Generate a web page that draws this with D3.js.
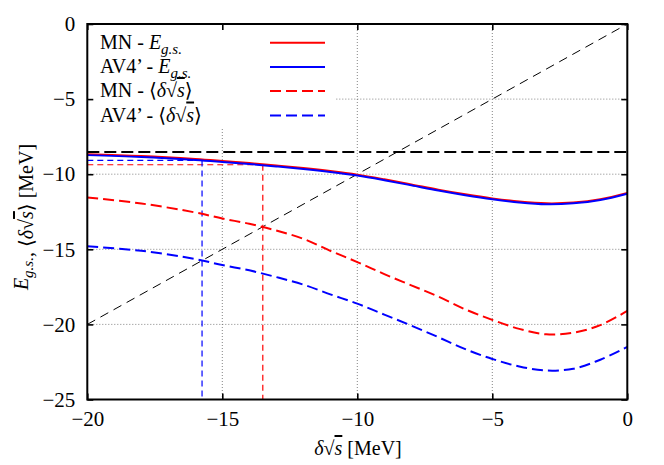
<!DOCTYPE html>
<html>
<head>
<meta charset="utf-8">
<script src="https://cdn.jsdelivr.net/npm/d3@7"></script>
<style>
  body { margin: 0; background: #fff; }
  text { font-family: "Liberation Serif", "DejaVu Serif", serif; fill: #000; }
  .grid line { stroke: #666; stroke-width: 0.8; stroke-dasharray: 1,2; }
</style>
</head>
<body>
<div id="chart"></div>
<script>
// DATA
// delta sqrt(s) grid [MeV]
var xs = [-20, -18, -16, -15, -14, -13, -12, -11, -10, -9, -8, -7, -6, -5, -4, -3, -2, -1, 0];
// ground state energy, MN and AV4'
var egsMN  = [-8.67, -8.79, -8.99, -9.12, -9.26, -9.42, -9.59, -9.79, -10.03, -10.34, -10.68, -11.03, -11.34, -11.61, -11.82, -11.94, -11.89, -11.67, -11.25];
var egsAV4 = [-8.73, -8.85, -9.05, -9.18, -9.32, -9.48, -9.65, -9.85, -10.09, -10.4, -10.74, -11.09, -11.4, -11.67, -11.88, -12.0, -11.94, -11.72, -11.3];
// <delta sqrt(s)>, MN and AV4'
var dsMN  = [-11.55, -11.95, -12.55, -12.95, -13.3, -13.75, -14.3, -15.1, -15.85, -16.65, -17.4, -18.15, -19.0, -19.7, -20.3, -20.66, -20.55, -20.05, -19.1];
var dsAV4 = [-14.8, -15.1, -15.65, -16.05, -16.4, -16.85, -17.35, -18.0, -18.62, -19.35, -20.08, -20.85, -21.65, -22.3, -22.8, -23.07, -22.95, -22.35, -21.5];
// self consistent points (delta sqrt(s) = <delta sqrt(s)>)
var scX = [-13.5, -15.75];
var scE = [-9.37, -9.08];
var scColor = ["#ff0000", "#0000ff"];
// threshold level
var threshold = -8.53;

var xTicks = [-20, -15, -10, -5, 0];
var yTicks = [0, -5, -10, -15, -20, -25];

// SIZES
var W = 664, H = 465;
var pL = 87.3, pR = 627.3, pT = 24, pB = 399.5;

var x = d3.scaleLinear().domain([-20, 0]).range([pL, pR]);
var y = d3.scaleLinear().domain([-25, 0]).range([pB, pT]);

var svg = d3.select("#chart")
  .append("svg")
  .attr("width", W)
  .attr("height", H);

// grid lines
var grid = svg.append("g").attr("class", "grid");
grid.selectAll("line.gx")
  .data(xTicks.slice(1, -1))
  .enter().append("line")
  .attr("x1", d => x(d)).attr("x2", d => x(d))
  .attr("y1", pT).attr("y2", pB);
grid.selectAll("line.gy")
  .data(yTicks.slice(1, -1))
  .enter().append("line")
  .attr("y1", d => y(d)).attr("y2", d => y(d))
  .attr("x1", pL).attr("x2", pR);

// legend background hides the grid behind it
svg.append("rect")
  .attr("x", pL + 1).attr("y", pT + 1)
  .attr("width", 336 - pL - 1).attr("height", 128 - pT - 1)
  .attr("fill", "#fff");

var plot = svg.append("g");

// threshold line
plot.append("line")
  .attr("x1", x(-20)).attr("x2", x(0))
  .attr("y1", y(threshold)).attr("y2", y(threshold))
  .attr("stroke", "#000").attr("stroke-width", 2)
  .attr("stroke-dasharray", "12,5");

// diagonal delta sqrt(s) = E
plot.append("line")
  .attr("x1", x(-20)).attr("y1", y(-20))
  .attr("x2", x(0)).attr("y2", y(0))
  .attr("stroke", "#000").attr("stroke-width", 1)
  .attr("stroke-dasharray", "9,6");

// guide lines at the self consistent points
scX.forEach(function (sx, i) {
  plot.append("line")
    .attr("x1", x(-20)).attr("x2", x(sx))
    .attr("y1", y(scE[i])).attr("y2", y(scE[i]))
    .attr("stroke", scColor[i]).attr("stroke-width", 1.2)
    .attr("stroke-dasharray", "6,4");
  plot.append("line")
    .attr("x1", x(sx)).attr("x2", x(sx))
    .attr("y1", y(scE[i])).attr("y2", pB)
    .attr("stroke", scColor[i]).attr("stroke-width", 1.2)
    .attr("stroke-dasharray", "6,4");
});

var line = d3.line()
  .x(d => x(d[0]))
  .y(d => y(d[1]))
  .curve(d3.curveCatmullRom.alpha(0.5));

var series = [
  { v: dsMN, color: "#ff0000", dash: "11,5" },
  { v: dsAV4, color: "#0000ff", dash: "11,5" },
  { v: egsMN, color: "#ff0000", dash: null },
  { v: egsAV4, color: "#0000ff", dash: null }
];
series.forEach(function (s) {
  plot.append("path")
    .datum(xs.map((d, i) => [d, s.v[i]]))
    .attr("d", line)
    .attr("fill", "none")
    .attr("stroke", s.color)
    .attr("stroke-width", 2)
    .attr("stroke-dasharray", s.dash);
});

// axes, gnuplot style: inward ticks, mirrored
var fmt = d3.format("d");
var ax = svg.append("g");
ax.append("g")
  .attr("transform", "translate(0," + pB + ")")
  .call(d3.axisBottom(x).tickValues(xTicks).tickFormat(fmt).tickSize(-6).tickPadding(12))
  .call(g => g.select(".domain").remove());
ax.append("g")
  .attr("transform", "translate(" + pL + ",0)")
  .call(d3.axisLeft(y).tickValues(yTicks).tickFormat(fmt).tickSize(-6).tickPadding(12))
  .call(g => g.select(".domain").remove());
ax.append("g")
  .attr("transform", "translate(0," + pT + ")")
  .call(d3.axisTop(x).tickValues(xTicks).tickFormat("").tickSize(-6))
  .call(g => g.select(".domain").remove());
ax.append("g")
  .attr("transform", "translate(" + pR + ",0)")
  .call(d3.axisRight(y).tickValues(yTicks).tickFormat("").tickSize(-6))
  .call(g => g.select(".domain").remove());
ax.selectAll(".tick line").attr("stroke", "#000").attr("stroke-width", 1.6);
ax.selectAll(".tick text")
  .style("font-family", "'Liberation Serif', serif")
  .style("font-size", "21px");

// frame
svg.append("rect")
  .attr("x", pL).attr("y", pT)
  .attr("width", pR - pL).attr("height", pB - pT)
  .attr("fill", "none").attr("stroke", "#000").attr("stroke-width", 2);

// helpers for the math bits
function egs(t) {
  t.append("tspan").attr("font-style", "italic").text("E");
  t.append("tspan").attr("font-style", "italic").attr("font-size", "15px")
    .attr("dy", 5).text("g.s.");
  t.append("tspan").attr("dy", -5).text("");
}
function sqrtS(t) {
  t.append("tspan").attr("font-style", "italic").text("δ");
  t.append("tspan").text("√");
  t.append("tspan").attr("font-style", "italic")
    .style("text-decoration", "overline").text("s");
}

// legend
var legendNames = ["MN - ", "AV4’ - ", "MN - ", "AV4’ - "];
var legendColor = ["#ff0000", "#0000ff", "#ff0000", "#0000ff"];
var legendDash = [null, null, "11,5", "11,5"];
var legendY = [42.7, 67, 91, 115.5];
legendNames.forEach(function (name, i) {
  var t = svg.append("text")
    .attr("x", 100).attr("y", legendY[i] + 6)
    .style("font-size", "20px");
  t.append("tspan").text(name);
  if (i < 2) {
    egs(t);
  } else {
    t.append("tspan").text("⟨");
    sqrtS(t);
    t.append("tspan").text("⟩");
  }
  svg.append("line")
    .attr("x1", 270).attr("x2", 325)
    .attr("y1", legendY[i]).attr("y2", legendY[i])
    .attr("stroke", legendColor[i]).attr("stroke-width", 2)
    .attr("stroke-dasharray", legendDash[i]);
});

// axis titles
var xl = svg.append("text")
  .attr("x", 358).attr("y", 455)
  .attr("text-anchor", "middle")
  .style("font-size", "20px");
sqrtS(xl);
xl.append("tspan").text(" [MeV]");

var yl = svg.append("text")
  .attr("transform", "translate(28,217) rotate(-90)")
  .attr("text-anchor", "middle")
  .style("font-size", "20px");
egs(yl);
yl.append("tspan").text(", ⟨");
sqrtS(yl);
yl.append("tspan").text("⟩ [MeV]");
</script>
</body>
</html>
